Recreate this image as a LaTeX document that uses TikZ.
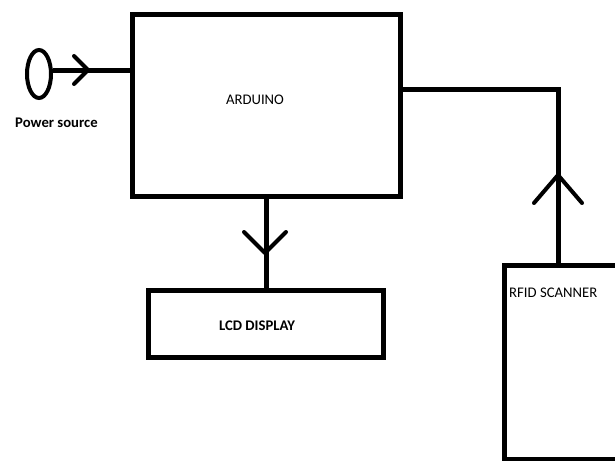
\documentclass[tikz,border=0pt]{standalone}
\usepackage{fontspec}
\setmainfont{Carlito}
\usetikzlibrary{calc,shapes.geometric}

\begin{document}
\begin{tikzpicture}[x=1pt,y=-1pt]
    \tikzset{
        block/.style={draw=black, line width=5pt, rectangle, inner sep=0pt},
        wire/.style={draw=black, line width=5pt},
        chev/.style={draw=black, line width=4pt, line cap=round, line join=round},
        lbl/.style={font=\fontsize{14.7}{17}\selectfont, inner sep=0pt},
    }
    \useasboundingbox (0,0) rectangle (615,460);
    \clip (0,0) rectangle (615,460);

    \node[ellipse, draw=black, line width=4pt, minimum width=24pt, minimum height=48pt, inner sep=0pt] (power) at (39,74) {};
    \node[lbl, font=\fontsize{14.7}{17}\selectfont\bfseries, anchor=west] (powertxt) at (15,123) {Power source};

    \node[block, minimum width=268pt, minimum height=182pt] (arduino) at (266,105.5) {};
    \node[lbl] (arduinotxt) at (255,100) {ARDUINO};

    \node[block, minimum width=235pt, minimum height=67.5pt] (lcd) at (266,323.75) {};
    \node[lbl, font=\fontsize{14.7}{17}\selectfont\bfseries] (lcdtxt) at (257,326) {LCD DISPLAY};

    \node[block, minimum width=140pt, minimum height=194pt, anchor=north west] (rfid) at (502,263) {};
    \node[lbl, anchor=west] (rfidtxt) at (509,293) {RFID SCANNER};

    % connectors
    \draw[wire] (power.16) -- (power.16 -| arduino.west);
    \draw[wire] (arduino.south) -- (lcd.north);
    \coordinate (corner) at (558,89);
    \draw[wire] (arduino.east |- corner) -- (corner) -- (corner |- rfid.north);

    % chevrons
    \coordinate (tipP) at (88,70);
    \coordinate (tipL) at (265,253);
    \coordinate (tipR) at (558,175);
    \draw[chev] ($(tipP)+(-14,-14)$) -- (tipP) -- ($(tipP)+(-14,14)$);
    \draw[chev] ($(tipL)+(-21,-21)$) -- (tipL) -- ($(tipL)+(21,-21)$);
    \draw[chev] ($(tipR)+(-24,28)$) -- (tipR) -- ($(tipR)+(24,28)$);
\end{tikzpicture}
\end{document}
